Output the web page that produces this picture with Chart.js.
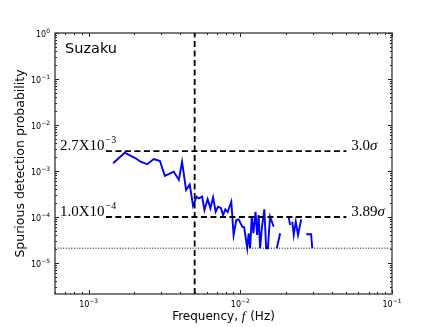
<!DOCTYPE html>
<html>
<head>
<meta charset="utf-8">
<script src="https://cdn.jsdelivr.net/npm/chart.js@4"></script>
<style>
  html, body { margin: 0; padding: 0; background: #fff; }
</style>
</head>
<body>
<canvas id="chart" width="436" height="327"></canvas>
<script>
'use strict'

// frequency bins (Hz) and spurious detection probability, null = zero (not drawn on log axis)
const freq = [1.45e-3, 1.73e-3, 2.04e-3, 2.20e-3, 2.43e-3, 2.69e-3, 2.95e-3, 3.18e-3, 3.64e-3, 3.93e-3,
  4.13e-3, 4.39e-3, 4.64e-3, 4.88e-3, 5.14e-3, 5.32e-3, 5.60e-3, 5.80e-3, 6.09e-3, 6.35e-3,
  6.61e-3, 6.88e-3, 7.13e-3, 7.46e-3, 7.69e-3, 7.96e-3, 8.24e-3, 8.72e-3, 9.03e-3, 9.41e-3,
  9.75e-3, 1.03e-2, 1.06e-2, 1.11e-2, 1.135e-2, 1.16e-2, 1.19e-2, 1.22e-2, 1.26e-2, 1.29e-2,
  1.32e-2, 1.35e-2, 1.39e-2, 1.44e-2, 1.48e-2, 1.52e-2, 1.57e-2, 1.66e-2, 1.70e-2, 1.74e-2,
  1.83e-2, 1.95e-2, 2.08e-2, 2.13e-2, 2.17e-2, 2.20e-2, 2.25e-2, 2.32e-2, 2.40e-2, 2.52e-2,
  2.62e-2, 2.72e-2, 2.93e-2, 2.98e-2];
const prob = [1.47e-3, 2.50e-3, 1.89e-3, 1.59e-3, 1.40e-3, 1.82e-3, 1.65e-3, 7.8e-4, 9.7e-4, 6.4e-4,
  1.59e-3, 3.9e-4, 5.1e-4, 1.73e-4, 2.76e-4, 2.55e-4, 2.76e-4, 1.42e-4, 2.46e-4, 1.55e-4,
  2.68e-4, 1.30e-4, 1.67e-4, 1.55e-4, 1.10e-4, 1.47e-4, 1.28e-4, 2.15e-4, 4.06e-5, 8.6e-5,
  8.9e-5, 6.15e-5, 5.97e-5, 2.1e-5, 4.43e-5, 2.1e-5, 1.02e-4, 4.43e-5, 1.30e-4, 4.06e-5,
  1.10e-4, 2.1e-5, 6.15e-5, 1.47e-4, 2.1e-5, 2.1e-5, 1.02e-4, 6.15e-5, null, 2.1e-5,
  4.43e-5, null, 1.02e-4, 6.7e-5, null, 7.9e-5, 4.06e-5, 7.9e-5, 4.06e-5, 8.9e-5,
  null, 4.21e-5, 4.21e-5, 2.1e-5];

const xRange = [6e-4, 0.1];
const yRange = [2.12e-6, 1];
const xTicks = [1e-3, 1e-2, 1e-1];
const yTicks = [1, 1e-1, 1e-2, 1e-3, 1e-4, 1e-5];

const fCut = 5e-3;          // vertical dashed line
const floorProb = 2.1e-5;   // dotted line
const levels = [2.7e-3, 1e-4];
const levelBase = ['2.7X10', '1.0X10'];
const levelExp = ['\u22123', '\u22124'];
const sigmaText = ['3.0', '3.89'];
const levelSpan = [1.3e-3, 0.05];

const sans = '"DejaVu Sans", sans-serif';
const serif = '"Liberation Serif", serif';

function drawPow(ctx, exp, px, py, align) {
  ctx.font = '8px ' + sans;
  const wb = ctx.measureText('10').width;
  ctx.font = '6px ' + sans;
  const we = ctx.measureText(exp).width;
  let x0 = px;
  if (align === 'right') x0 = px - wb - we;
  if (align === 'center') x0 = px - (wb + we) / 2;
  ctx.textAlign = 'left';
  ctx.textBaseline = 'alphabetic';
  ctx.font = '8px ' + sans;
  ctx.fillText('10', x0, py);
  ctx.font = '6px ' + sans;
  ctx.fillText(exp, x0 + wb, py - 4);
}

function expStr(v) {
  const e = Math.round(Math.log10(v));
  return e < 0 ? '\u2212' + (-e) : String(e);
}

const frame = {
  id: 'frame',
  afterDatasetsDraw(chart) {
    const {ctx, chartArea: a, scales: {x, y}} = chart;
    ctx.save();
    ctx.strokeStyle = '#222';
    ctx.lineWidth = 1;
    ctx.beginPath();
    // minor + major ticks on all four sides, pointing inward
    for (let e = -4; e <= -1; e++) {
      for (let k = 1; k <= 9; k++) {
        const v = k * Math.pow(10, e);
        if (v < xRange[0] || v > xRange[1]) continue;
        const px = Math.round(x.getPixelForValue(v)) + 0.5;
        const len = k === 1 ? 4 : 2;
        ctx.moveTo(px, a.bottom); ctx.lineTo(px, a.bottom - len);
        ctx.moveTo(px, a.top); ctx.lineTo(px, a.top + len);
      }
    }
    for (let e = -6; e <= 0; e++) {
      for (let k = 1; k <= 9; k++) {
        const v = k * Math.pow(10, e);
        if (v < yRange[0] || v > yRange[1]) continue;
        const py = Math.round(y.getPixelForValue(v)) + 0.5;
        const len = k === 1 ? 4 : 2;
        ctx.moveTo(a.left, py); ctx.lineTo(a.left + len, py);
        ctx.moveTo(a.right, py); ctx.lineTo(a.right - len, py);
      }
    }
    ctx.stroke();
    ctx.lineWidth = 1.3;
    ctx.strokeStyle = '#333';
    ctx.strokeRect(a.left, a.top, a.right - a.left, a.bottom - a.top);

    ctx.fillStyle = '#000';
    xTicks.forEach(v => drawPow(ctx, expStr(v), x.getPixelForValue(v), a.bottom + 13, 'center'));
    yTicks.forEach(v => drawPow(ctx, expStr(v), a.left - 5, y.getPixelForValue(v) + 4, 'right'));

    // axis titles
    ctx.textBaseline = 'alphabetic';
    ctx.font = '12px ' + sans;
    const t1 = 'Frequency, ', t2 = 'f', t3 = ' (Hz)';
    const w1 = ctx.measureText(t1).width, w3 = ctx.measureText(t3).width;
    ctx.font = 'italic 13px ' + serif;
    const w2 = ctx.measureText(t2).width + 1;
    let xs = (a.left + a.right) / 2 - (w1 + w2 + w3) / 2;
    ctx.textAlign = 'left';
    ctx.font = '12px ' + sans;
    ctx.fillText(t1, xs, 320);
    ctx.font = 'italic 13px ' + serif;
    ctx.fillText(t2, xs + w1, 320);
    ctx.font = '12px ' + sans;
    ctx.fillText(t3, xs + w1 + w2, 320);

    ctx.save();
    ctx.translate(24, (a.top + a.bottom) / 2);
    ctx.rotate(-Math.PI / 2);
    ctx.textAlign = 'center';
    ctx.font = '12.5px ' + sans;
    ctx.fillText('Spurious detection probability', 0, 0);
    ctx.restore();

    // panel label
    ctx.textAlign = 'left';
    ctx.font = '14.5px ' + sans;
    ctx.fillText('Suzaku', a.left + 10, a.top + 20);

    // level annotations
    levels.forEach((lv, i) => {
      const py = y.getPixelForValue(lv) - 1.5;
      ctx.font = '15px ' + serif;
      ctx.textAlign = 'left';
      const x0 = a.left + 5;
      ctx.fillText(levelBase[i], x0, py);
      const wb = ctx.measureText(levelBase[i]).width;
      ctx.font = '10px ' + serif;
      ctx.fillText(levelExp[i], x0 + wb + 1, py - 7);

      const xr = x.getPixelForValue(levelSpan[1]) + 5;
      ctx.font = '15px ' + serif;
      ctx.fillText(sigmaText[i], xr, py);
      const ws = ctx.measureText(sigmaText[i]).width;
      ctx.font = 'italic 15px ' + serif;
      ctx.fillText('\u03c3', xr + ws, py);
    });
    ctx.restore();
  }
};

const ctx = document.getElementById('chart');
new Chart(ctx, {
  type: 'line',
  data: {
    datasets: [
      {
        data: freq.map((f, i) => ({x: f, y: prob[i]})),
        borderColor: '#0000ff',
        borderWidth: 1.9,
        pointRadius: 0,
        spanGaps: false,
        tension: 0,
        order: 5
      },
      {
        data: [{x: xRange[0], y: floorProb}, {x: xRange[1], y: floorProb}],
        borderColor: '#000',
        borderWidth: 1,
        borderDash: [1, 1.7],
        pointRadius: 0,
        order: 2
      },
      {
        data: [{x: levelSpan[0], y: levels[0]}, {x: levelSpan[1], y: levels[0]}],
        borderColor: '#000',
        borderWidth: 1.8,
        borderDash: [6, 3.5],
        pointRadius: 0,
        order: 1
      },
      {
        data: [{x: levelSpan[0], y: levels[1]}, {x: levelSpan[1], y: levels[1]}],
        borderColor: '#000',
        borderWidth: 1.8,
        borderDash: [6, 3.5],
        pointRadius: 0,
        order: 1
      },
      {
        data: [{x: fCut, y: yRange[0]}, {x: fCut, y: yRange[1]}],
        borderColor: '#000',
        borderWidth: 1.8,
        borderDash: [6, 3.5],
        pointRadius: 0,
        order: 1
      }
    ]
  },
  options: {
    responsive: false,
    animation: false,
    layout: {
      padding: {left: 55, top: 33, right: 44, bottom: 33}
    },
    scales: {
      x: {type: 'logarithmic', display: false, min: xRange[0], max: xRange[1]},
      y: {type: 'logarithmic', display: false, min: yRange[0], max: yRange[1]}
    },
    plugins: {
      legend: {display: false},
      tooltip: {enabled: false}
    },
    events: []
  },
  plugins: [frame]
});
</script>
</body>
</html>
